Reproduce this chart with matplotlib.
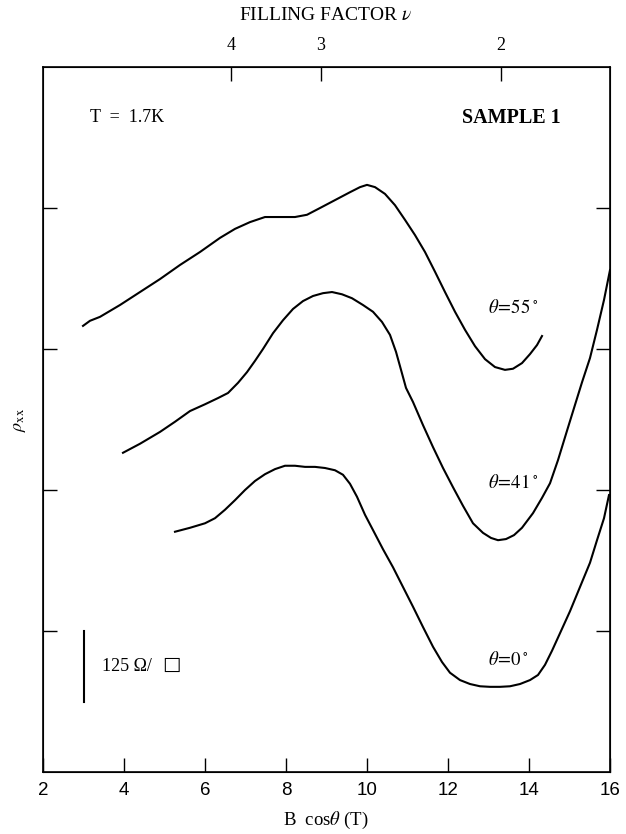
import numpy as np
import matplotlib.pyplot as plt

plt.rcParams['font.family'] = ['Liberation Serif', 'DejaVu Sans']
plt.rcParams['mathtext.fontset'] = 'stix'

# B cos(theta) in T, rho_xx in ohm/square (offset traces)
b_55 = [2.988, 3.160, 3.407, 3.901, 4.395, 4.889, 5.383, 5.877, 6.370, 6.741,
        7.111, 7.481, 7.852, 8.222, 8.519, 8.840, 9.210, 9.580, 9.827, 10.000,
        10.198, 10.444, 10.691, 10.938, 11.185, 11.432, 11.679, 11.926, 12.173,
        12.420, 12.667, 12.914, 13.160, 13.407, 13.605, 13.827, 14.025, 14.198,
        14.321]
r_55 = [791, 800, 807, 828, 851, 874, 899, 922, 947, 963,
        975, 984, 984, 984, 988, 1000, 1014, 1028, 1037, 1041,
        1037, 1025, 1005, 979, 952, 922, 887, 851, 816,
        784, 755, 732, 718, 713, 715, 725, 741, 757,
        773]

b_41 = [3.975, 4.395, 4.889, 5.259, 5.630, 6.000, 6.321, 6.568, 6.815, 7.037,
        7.235, 7.432, 7.679, 7.926, 8.173, 8.420, 8.667, 8.914, 9.136, 9.383,
        9.630, 9.901, 10.148, 10.370, 10.568, 10.716, 10.840, 10.963, 11.136,
        11.383, 11.630, 11.877, 12.123, 12.370, 12.617, 12.864, 13.062, 13.235,
        13.432, 13.630, 13.827, 14.099, 14.321, 14.519, 14.716, 14.938, 15.136,
        15.309, 15.506, 15.679, 15.852, 16.000]
r_41 = [566, 582, 603, 621, 640, 652, 663, 672, 690, 709,
        729, 750, 778, 801, 821, 835, 844, 849, 851, 847,
        840, 828, 816, 798, 775, 745, 713, 681, 656,
        615, 576, 539, 505, 472, 441, 424, 415, 411,
        413, 420, 433, 459, 486, 512, 553, 605, 651,
        691, 734, 784, 837, 890]

b_0 = [5.259, 5.630, 6.000, 6.247, 6.494, 6.741, 6.988, 7.235, 7.481, 7.728,
       7.975, 8.222, 8.469, 8.716, 8.963, 9.210, 9.407, 9.580, 9.753, 9.951,
       10.148, 10.395, 10.642, 10.889, 11.136, 11.383, 11.630, 11.852, 12.049,
       12.296, 12.543, 12.790, 13.037, 13.284, 13.531, 13.778, 14.025, 14.222,
       14.395, 14.568, 14.765, 15.012, 15.259, 15.506, 15.679, 15.852, 15.975]
r_0 = [426, 433, 441, 450, 465, 482, 500, 516, 528, 537,
       543, 543, 541, 541, 539, 535, 527, 511, 488, 456,
       429, 395, 363, 328, 293, 257, 222, 195, 176,
       163, 156, 152, 151, 151, 152, 156, 163, 172,
       190, 215, 246, 285, 328, 371, 411, 450, 491]

nu_ticks = [4, 3, 2]
b_ticks = [2, 4, 6, 8, 10, 12, 14, 16]
rho_ticks = [250, 500, 750, 1000]

fig = plt.figure(figsize=(6.26, 8.34), dpi=100)
ax = fig.add_axes([43/626, 62/834, 567/626, 705/834])

for b, r in [(b_55, r_55), (b_41, r_41), (b_0, r_0)]:
    ax.plot(b, r, color='black', lw=1.5)

# scale bar 125 ohm/sq
ax.plot([3.0, 3.0], [125, 250], color='black', lw=1.5)
ax.text(3.45, 187, '125 \u03a9/', fontsize=13, va='center', ha='left')
ax.text(4.95, 190, '\u25a1', fontsize=14, va='center', ha='left', family='DejaVu Sans')

ax.set_xlim(2, 16)
ax.set_ylim(0, 1250)
ax.set_xticks(b_ticks)
ax.set_xticklabels([str(t) for t in b_ticks], family='Liberation Sans', fontsize=13.5)
ax.set_yticks(rho_ticks)
ax.tick_params(axis='y', which='both', direction='in', length=10, width=1,
               left=True, right=True, labelleft=False)
ax.tick_params(axis='x', direction='in', length=10, width=1, pad=7, top=False)
for s in ax.spines.values():
    s.set_linewidth(1.2)

ax2 = ax.twiny()
ax2.set_xlim(ax.get_xlim())
ax2.set_xticks([26.6 / n for n in nu_ticks])
ax2.set_xticklabels([str(n) for n in nu_ticks], fontsize=13)
ax2.tick_params(axis='x', direction='in', length=10, width=1, pad=9)

fig.text(326/626, 1 - 15/834, r'FILLING FACTOR $\nu$', ha='center', va='center', fontsize=14)
fig.text(326/626, 1 - 820/834, r'B  cos$\theta$ (T)', ha='center', va='center', fontsize=13.5)
fig.text(20/626, 1 - 420/834, r'$\rho_{\rm xx}$', ha='center', va='center',
         rotation=90, fontsize=13)

ax.text(3.15, 1160, 'T  =  1.7K', fontsize=13, va='center')
ax.text(12.35, 1160, 'SAMPLE 1', fontsize=14.5, fontweight='bold', va='center')
ax.text(13.6, 822, r'$\theta\!=\!55\,^{\circ}$', fontsize=13.5, ha='center', va='center')
ax.text(13.6, 512, r'$\theta\!=\!41\,^{\circ}$', fontsize=13.5, ha='center', va='center')
ax.text(13.5, 198, r'$\theta\!=\!0\,^{\circ}$', fontsize=13.5, ha='center', va='center')

fig.savefig('out.png', dpi=100)
